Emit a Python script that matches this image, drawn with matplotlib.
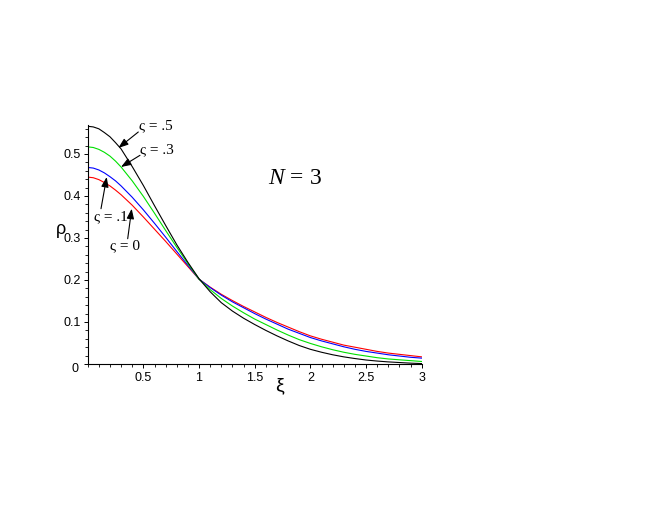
import matplotlib
matplotlib.use("Agg")
import matplotlib.pyplot as plt
from matplotlib.ticker import MultipleLocator, FixedLocator, FixedFormatter

plt.rcParams["mathtext.fontset"] = "custom"
plt.rcParams["mathtext.it"] = "Liberation Serif:italic"
plt.rcParams["mathtext.rm"] = "Liberation Serif"

# ---- data ----
xi = [0.0, 0.05, 0.1, 0.15, 0.2, 0.25, 0.3, 0.4, 0.5, 0.6, 0.7, 0.8, 0.9, 1.0,
      1.1, 1.2, 1.3, 1.4, 1.5, 1.6, 1.7, 1.8, 1.9, 2.0,
      2.1, 2.2, 2.3, 2.4, 2.5, 2.6, 2.7, 2.8, 2.9, 3.0]

rho_s0 = [0.445, 0.4435, 0.439, 0.432, 0.424, 0.414, 0.403, 0.378, 0.350, 0.321, 0.292,
          0.262, 0.232, 0.202,
          0.183, 0.166, 0.151, 0.137, 0.124, 0.111, 0.099, 0.088, 0.077, 0.067,
          0.059, 0.052, 0.045, 0.040, 0.035, 0.030, 0.026, 0.023, 0.020, 0.017]
rho_s1 = [0.468, 0.4665, 0.462, 0.455, 0.446, 0.436, 0.424, 0.397, 0.367, 0.335, 0.302,
          0.268, 0.235, 0.202,
          0.182, 0.164, 0.148, 0.134, 0.120, 0.107, 0.095, 0.083, 0.073, 0.063,
          0.055, 0.048, 0.041, 0.035, 0.030, 0.026, 0.022, 0.019, 0.016, 0.014]
rho_s3 = [0.517, 0.5155, 0.511, 0.504, 0.495, 0.483, 0.469, 0.436, 0.399, 0.359, 0.318,
          0.278, 0.239, 0.202,
          0.177, 0.156, 0.138, 0.122, 0.107, 0.094, 0.081, 0.069, 0.058, 0.049,
          0.041, 0.034, 0.028, 0.023, 0.019, 0.015, 0.012, 0.010, 0.008, 0.006]
rho_s5 = [0.566, 0.5645, 0.560, 0.551, 0.541, 0.527, 0.512, 0.470, 0.425, 0.377, 0.330,
          0.284, 0.242, 0.203,
          0.172, 0.146, 0.126, 0.109, 0.094, 0.080, 0.067, 0.055, 0.044, 0.035,
          0.028, 0.022, 0.017, 0.013, 0.0095, 0.007, 0.005, 0.0035, 0.002, 0.001]

series_labels = ["ς = 0", "ς = .1", "ς = .3", "ς = .5"]
series_colors = ["#ff0000", "#0000ff", "#00e000", "#000000"]

xticks = [0.5, 1, 1.5, 2, 2.5, 3]
xtick_labels = ["0.5", "1", "1.5", "2", "2.5", "3"]
yticks = [0, 0.1, 0.2, 0.3, 0.4, 0.5]
ytick_labels = ["", "0.1", "0.2", "0.3", "0.4", "0.5"]
origin_label = "0"

# ---- figure ----
W, H = 664, 513
fig = plt.figure(figsize=(W / 100, H / 100), dpi=100)
ax = fig.add_axes([87.7 / W, (H - 364) / H, 334 / W, 239.4 / H])

for ys, c in zip([rho_s0, rho_s1, rho_s3, rho_s5], series_colors):
    ax.plot(xi, ys, color=c, lw=0.8, solid_joinstyle="round")

ax.set_xlim(0, 3)
ax.set_ylim(0, 0.57)

for s in ["top", "right"]:
    ax.spines[s].set_visible(False)
for s in ["left", "bottom"]:
    ax.spines[s].set_linewidth(0.8)

ax.xaxis.set_major_locator(FixedLocator(xticks))
ax.xaxis.set_major_formatter(FixedFormatter(xtick_labels))
ax.xaxis.set_minor_locator(MultipleLocator(0.1))
ax.yaxis.set_major_locator(FixedLocator(yticks))
ax.yaxis.set_major_formatter(FixedFormatter(ytick_labels))
ax.yaxis.set_minor_locator(MultipleLocator(0.02))

tickfont = "Liberation Sans"
ax.tick_params(which="major", length=3, width=0.7, direction="out", labelsize=9, pad=2)
ax.tick_params(which="minor", length=2, width=0.6, direction="out")
ax.tick_params(axis="x", which="major", pad=2.5)
for lab in ax.get_xticklabels() + ax.get_yticklabels():
    lab.set_fontfamily(tickfont)


def px(x, y):
    return (x / W, 1 - y / H)


fig.text(*px(79, 369), origin_label, fontsize=9, family=tickfont, ha="right", va="center")

# axis labels (Maple-style positions)
fig.text(*px(61, 229), "ρ", fontsize=13, family=tickfont, ha="center", va="center")
fig.text(*px(280, 386), "ξ", fontsize=14, family=tickfont, ha="center", va="center")

# N = 3
fig.text(*px(294.5, 179), "$N$ = 3", fontsize=17, family="Liberation Serif",
         ha="center", va="center")

# annotations: (text, text center px, arrow start px, arrow tip px)
annots = [
    (series_labels[3], (156, 126), (138.3, 132), (118.3, 148)),
    (series_labels[2], (157, 150), (140, 155.3), (121, 167)),
    (series_labels[1], (111, 217), (101, 208.7), (106.7, 177)),
    (series_labels[0], (125, 246), (127.7, 238.7), (131.7, 208.7)),
]
for txt, tc, a0, a1 in annots:
    fig.text(*px(*tc), txt, fontsize=11, family="Liberation Serif",
             ha="center", va="center")
    ax.annotate("", xy=px(*a1), xycoords="figure fraction",
                xytext=px(*a0), textcoords="figure fraction",
                arrowprops=dict(arrowstyle="-|>,head_length=0.6,head_width=0.22",
                                color="black", lw=0.8, shrinkA=0, shrinkB=0))

fig.savefig("out.png", dpi=100)
